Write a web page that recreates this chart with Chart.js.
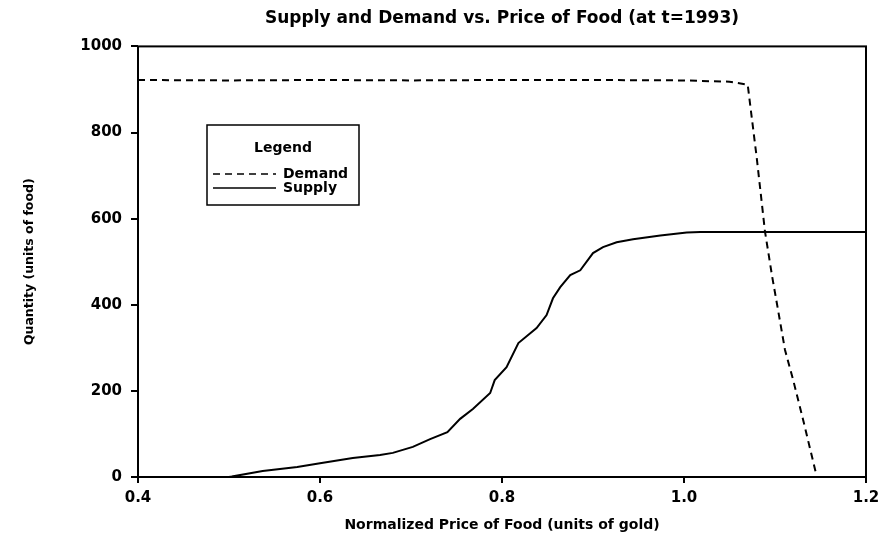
<!DOCTYPE html>
<html>
<head>
<meta charset="utf-8">
<script src="https://cdn.jsdelivr.net/npm/chart.js@4"></script>
<style>
  html, body { margin: 0; padding: 0; background: #fff; }
  #wrap { width: 881px; height: 540px; }
</style>
</head>
<body>
<div id="wrap"><canvas id="chart" width="881" height="540"></canvas></div>
<script>
// Demand curve (price, quantity)
const demandPrice = [0.40, 0.50, 0.60, 0.70, 0.80, 0.90, 1.00, 1.05, 1.07, 1.080, 1.089, 1.097, 1.102, 1.111, 1.120, 1.131, 1.146];
const demandQty   = [922, 921, 922, 921, 922, 922, 921, 918, 911, 740, 570, 464, 404, 295, 225, 132, 0];

// Supply curve (price, quantity)
const supplyPrice = [0.40, 0.50, 0.503, 0.537, 0.575, 0.600, 0.636, 0.666, 0.680, 0.702, 0.721, 0.740, 0.754, 0.768, 0.787, 0.792, 0.805, 0.818, 0.838, 0.849, 0.856, 0.864, 0.875, 0.886, 0.900, 0.911, 0.926, 0.944, 0.974, 1.003, 1.018, 1.20];
const supplyQty   = [0, 0, 1, 14, 23, 32, 44, 51, 56, 70, 88, 104, 135, 158, 195, 225, 255, 311, 346, 376, 415, 441, 469, 480, 520, 534, 545, 552, 561, 568, 569, 569];

const xTicks = [0.4, 0.6, 0.8, 1.0, 1.2];
const yTicks = [0, 200, 400, 600, 800, 1000];

const FONT = "'DejaVu Sans', Arial, sans-serif";

function toPoints(xs, ys) {
  return xs.map((x, i) => ({ x: x, y: ys[i] }));
}

// frame around the plot area + boxed legend
const framePlugin = {
  id: "frame",
  afterDraw(chart) {
    const { ctx, chartArea: a } = chart;
    ctx.save();
    ctx.strokeStyle = "#000";
    ctx.lineWidth = 2;
    ctx.strokeRect(a.left, a.top, a.right - a.left, a.bottom - a.top);

    // legend box
    const bx = 207, by = 125, bw = 152, bh = 80;
    ctx.lineWidth = 1.5;
    ctx.strokeRect(bx, by, bw, bh);
    ctx.fillStyle = "#000";
    ctx.textBaseline = "middle";
    ctx.textAlign = "center";
    ctx.font = "bold 14px " + FONT;
    ctx.fillText("Legend", 283, 148);
    ctx.textAlign = "left";
    chart.data.datasets.forEach((ds, i) => {
      const y = 174 + i * 14;
      ctx.beginPath();
      ctx.setLineDash(ds.borderDash || []);
      ctx.lineWidth = 1.5;
      ctx.moveTo(bx + 6, y);
      ctx.lineTo(bx + 69, y);
      ctx.stroke();
      ctx.setLineDash([]);
      ctx.fillText(ds.label, bx + 76, y);
    });
    ctx.restore();
  }
};

new Chart(document.getElementById("chart").getContext("2d"), {
  type: "line",
  data: {
    datasets: [
      {
        label: "Demand",
        data: toPoints(demandPrice, demandQty),
        borderColor: "#000",
        borderWidth: 2,
        borderDash: [7, 5],
        pointRadius: 0,
        tension: 0,
        fill: false,
      },
      {
        label: "Supply",
        data: toPoints(supplyPrice, supplyQty),
        borderColor: "#000",
        borderWidth: 2,
        pointRadius: 0,
        tension: 0,
        fill: false,
      },
    ],
  },
  options: {
    responsive: false,
    animation: false,
    layout: { padding: { left: 0, right: 15, top: 0, bottom: 0 } },
    plugins: {
      legend: { display: false },
      tooltip: { enabled: false },
      title: {
        display: true,
        fullSize: false,
        text: "Supply and Demand vs. Price of Food (at t=1993)",
        color: "#000",
        font: { family: FONT, size: 17, weight: "bold" },
        padding: { top: 8, bottom: 18 },
      },
    },
    scales: {
      x: {
        type: "linear",
        min: 0.4,
        max: 1.2,
        afterBuildTicks: (s) => { s.ticks = xTicks.map((v) => ({ value: v })); },
        afterFit: (s) => { s.height = 63; s.paddingLeft = 0; s.paddingRight = 0; },
        ticks: {
          color: "#000",
          font: { family: FONT, size: 15, weight: "bold" },
          padding: 6,
          maxRotation: 0,
          callback: (v) => v.toFixed(1),
        },
        grid: { drawOnChartArea: false, color: "#000", tickLength: 6, lineWidth: 2 },
        border: { display: false },
        title: {
          display: true,
          text: "Normalized Price of Food (units of gold)",
          color: "#000",
          font: { family: FONT, size: 14, weight: "bold" },
          padding: { top: 0, bottom: 6 },
        },
      },
      y: {
        min: 0,
        max: 1000,
        afterBuildTicks: (s) => { s.ticks = yTicks.map((v) => ({ value: v })); },
        afterFit: (s) => { s.width = 138; },
        ticks: {
          color: "#000",
          font: { family: FONT, size: 15, weight: "bold" },
          padding: 9,
          callback: (v) => String(v),
        },
        grid: { drawOnChartArea: false, color: "#000", tickLength: 7, lineWidth: 2 },
        border: { display: false },
        title: {
          display: true,
          text: "Quantity (units of food)",
          color: "#000",
          font: { family: FONT, size: 12.5, weight: "bold" },
          padding: { top: 22, bottom: 0 },
        },
      },
    },
  },
  plugins: [framePlugin],
});
</script>
</body>
</html>
